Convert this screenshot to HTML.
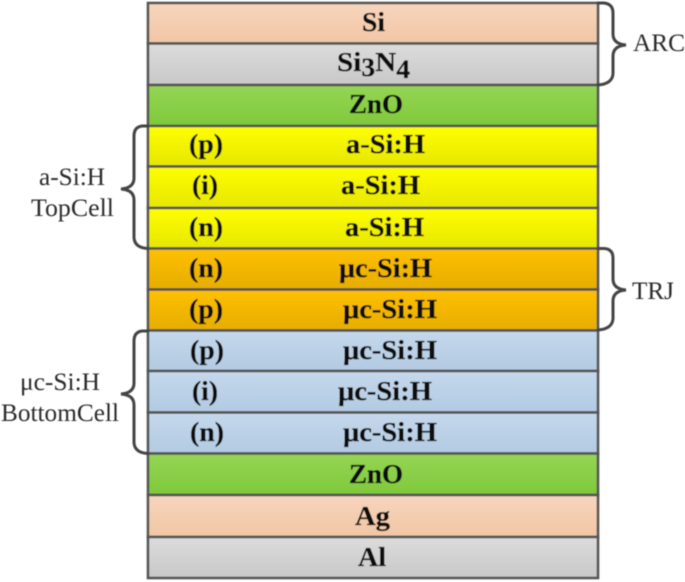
<!DOCTYPE html>
<html>
<head>
<meta charset="utf-8">
<style>
html,body{margin:0;padding:0;background:#fff;width:685px;height:582px;overflow:hidden}
svg{display:block}
text{font-family:"Liberation Serif",serif}
.b{font-weight:bold;font-size:27.500px;fill:#0c0c0c;stroke:#0c0c0c;stroke-width:.3px}
.l{font-size:25px;fill:#2c2c2c}
</style>
</head>
<body>
<svg width="685" height="582" viewBox="0 0 685 582" xmlns="http://www.w3.org/2000/svg">
<defs>
<linearGradient id="pe" x1="0" y1="0" x2="0" y2="1"><stop offset="0" stop-color="#f6d5bd"/><stop offset="1" stop-color="#f2c6a4"/></linearGradient>
<linearGradient id="gr" x1="0" y1="0" x2="0" y2="1"><stop offset="0" stop-color="#dcdcdc"/><stop offset="1" stop-color="#c8c8c8"/></linearGradient>
<linearGradient id="gn" x1="0" y1="0" x2="0" y2="1"><stop offset="0" stop-color="#95d555"/><stop offset="1" stop-color="#7fc93a"/></linearGradient>
<linearGradient id="ye" x1="0" y1="0" x2="0" y2="1"><stop offset="0" stop-color="#ffff00"/><stop offset="1" stop-color="#e6e600"/></linearGradient>
<linearGradient id="or" x1="0" y1="0" x2="0" y2="1"><stop offset="0" stop-color="#ffc000"/><stop offset="1" stop-color="#e6ad00"/></linearGradient>
<linearGradient id="bl" x1="0" y1="0" x2="0" y2="1"><stop offset="0" stop-color="#c5d8ec"/><stop offset="1" stop-color="#b2cae2"/></linearGradient>
<filter id="s" x="-5%" y="-5%" width="110%" height="110%"><feGaussianBlur stdDeviation="0.4"/></filter>
</defs>
<g filter="url(#s)">
<g stroke="#555" stroke-width="2.600">
<rect x="148" y="3" width="450" height="40.500" fill="url(#pe)"/>
<rect x="148" y="43.500" width="450" height="41.500" fill="url(#gr)"/>
<rect x="148" y="85" width="450" height="41" fill="url(#gn)"/>
<rect x="148" y="126" width="450" height="40.500" fill="url(#ye)"/>
<rect x="148" y="166.500" width="450" height="41.500" fill="url(#ye)"/>
<rect x="148" y="208" width="450" height="40.500" fill="url(#ye)"/>
<rect x="148" y="248.500" width="450" height="41" fill="url(#or)"/>
<rect x="148" y="289.500" width="450" height="41" fill="url(#or)"/>
<rect x="148" y="330.500" width="450" height="40.500" fill="url(#bl)"/>
<rect x="148" y="371" width="450" height="41.500" fill="url(#bl)"/>
<rect x="148" y="412.500" width="450" height="41" fill="url(#bl)"/>
<rect x="148" y="453.500" width="450" height="41.500" fill="url(#gn)"/>
<rect x="148" y="495" width="450" height="42" fill="url(#pe)"/>
<rect x="148" y="537" width="450" height="41" fill="url(#gr)"/>
</g>
<g fill="none" stroke="#444" stroke-width="3" stroke-linecap="round">
<path d="M148 126 H142 Q134 127 134 136 V178 Q134 188 121 189 Q134 190 134 200 V238 Q135 248 148 248.500"/>
<path d="M148 331 H142 Q134 332 134 341 V383 Q134 393 121 394 Q134 395 134 405 V443 Q135 453 148 453.500"/>
<path d="M598 3 H604 Q613 4 613 13 V34 Q613 44 626 45 Q613 46 613 56 V74 Q612 84 598 85"/>
<path d="M598 248.500 H604 Q613 249 613 258 V279 Q613 289 626 290 Q613 291 613 301 V319 Q612 329 598 330"/>
</g>
<text class="b" x="362" y="31" textLength="23" lengthAdjust="spacingAndGlyphs">Si</text>
<text class="b" x="337" y="71" textLength="73" lengthAdjust="spacingAndGlyphs">Si<tspan font-size="26" dy="5">3</tspan><tspan dy="-5">N</tspan><tspan font-size="26" dy="7">4</tspan></text>
<text class="b" x="349" y="113" textLength="54" lengthAdjust="spacingAndGlyphs">ZnO</text>
<text class="b" x="346" y="153" textLength="79" lengthAdjust="spacingAndGlyphs">a-Si:H</text>
<text class="b" x="341" y="194" textLength="79" lengthAdjust="spacingAndGlyphs">a-Si:H</text>
<text class="b" x="345" y="236" textLength="79" lengthAdjust="spacingAndGlyphs">a-Si:H</text>
<text class="b" x="339" y="277" textLength="93" lengthAdjust="spacingAndGlyphs">μc-Si:H</text>
<text class="b" x="343" y="318" textLength="94" lengthAdjust="spacingAndGlyphs">μc-Si:H</text>
<text class="b" x="343" y="359" textLength="94" lengthAdjust="spacingAndGlyphs">μc-Si:H</text>
<text class="b" x="338" y="400" textLength="94" lengthAdjust="spacingAndGlyphs">μc-Si:H</text>
<text class="b" x="343" y="441" textLength="94" lengthAdjust="spacingAndGlyphs">μc-Si:H</text>
<text class="b" x="349" y="483" textLength="54" lengthAdjust="spacingAndGlyphs">ZnO</text>
<text class="b" x="355" y="525" textLength="35" lengthAdjust="spacingAndGlyphs">Ag</text>
<text class="b" x="358" y="566" textLength="28" lengthAdjust="spacingAndGlyphs">Al</text>
<text class="b" x="189" y="153" textLength="34" lengthAdjust="spacingAndGlyphs">(p)</text>
<text class="b" x="192" y="194" textLength="26" lengthAdjust="spacingAndGlyphs">(i)</text>
<text class="b" x="189" y="236" textLength="34" lengthAdjust="spacingAndGlyphs">(n)</text>
<text class="b" x="189" y="277" textLength="34" lengthAdjust="spacingAndGlyphs">(n)</text>
<text class="b" x="189" y="318" textLength="34" lengthAdjust="spacingAndGlyphs">(p)</text>
<text class="b" x="190" y="359" textLength="34" lengthAdjust="spacingAndGlyphs">(p)</text>
<text class="b" x="192" y="400" textLength="26" lengthAdjust="spacingAndGlyphs">(i)</text>
<text class="b" x="190" y="441" textLength="34" lengthAdjust="spacingAndGlyphs">(n)</text>
<text class="l" x="39" y="185" textLength="66" lengthAdjust="spacingAndGlyphs">a-Si:H</text>
<text class="l" x="31" y="216" textLength="83" lengthAdjust="spacingAndGlyphs">TopCell</text>
<text class="l" x="20" y="390" textLength="80" lengthAdjust="spacingAndGlyphs">μc-Si:H</text>
<text class="l" x="1" y="421" textLength="118" lengthAdjust="spacingAndGlyphs">BottomCell</text>
<text class="l" x="633" y="51" textLength="52" lengthAdjust="spacingAndGlyphs">ARC</text>
<text class="l" x="632" y="299" textLength="42" lengthAdjust="spacingAndGlyphs">TRJ</text>
</g>
</svg>
</body>
</html>
